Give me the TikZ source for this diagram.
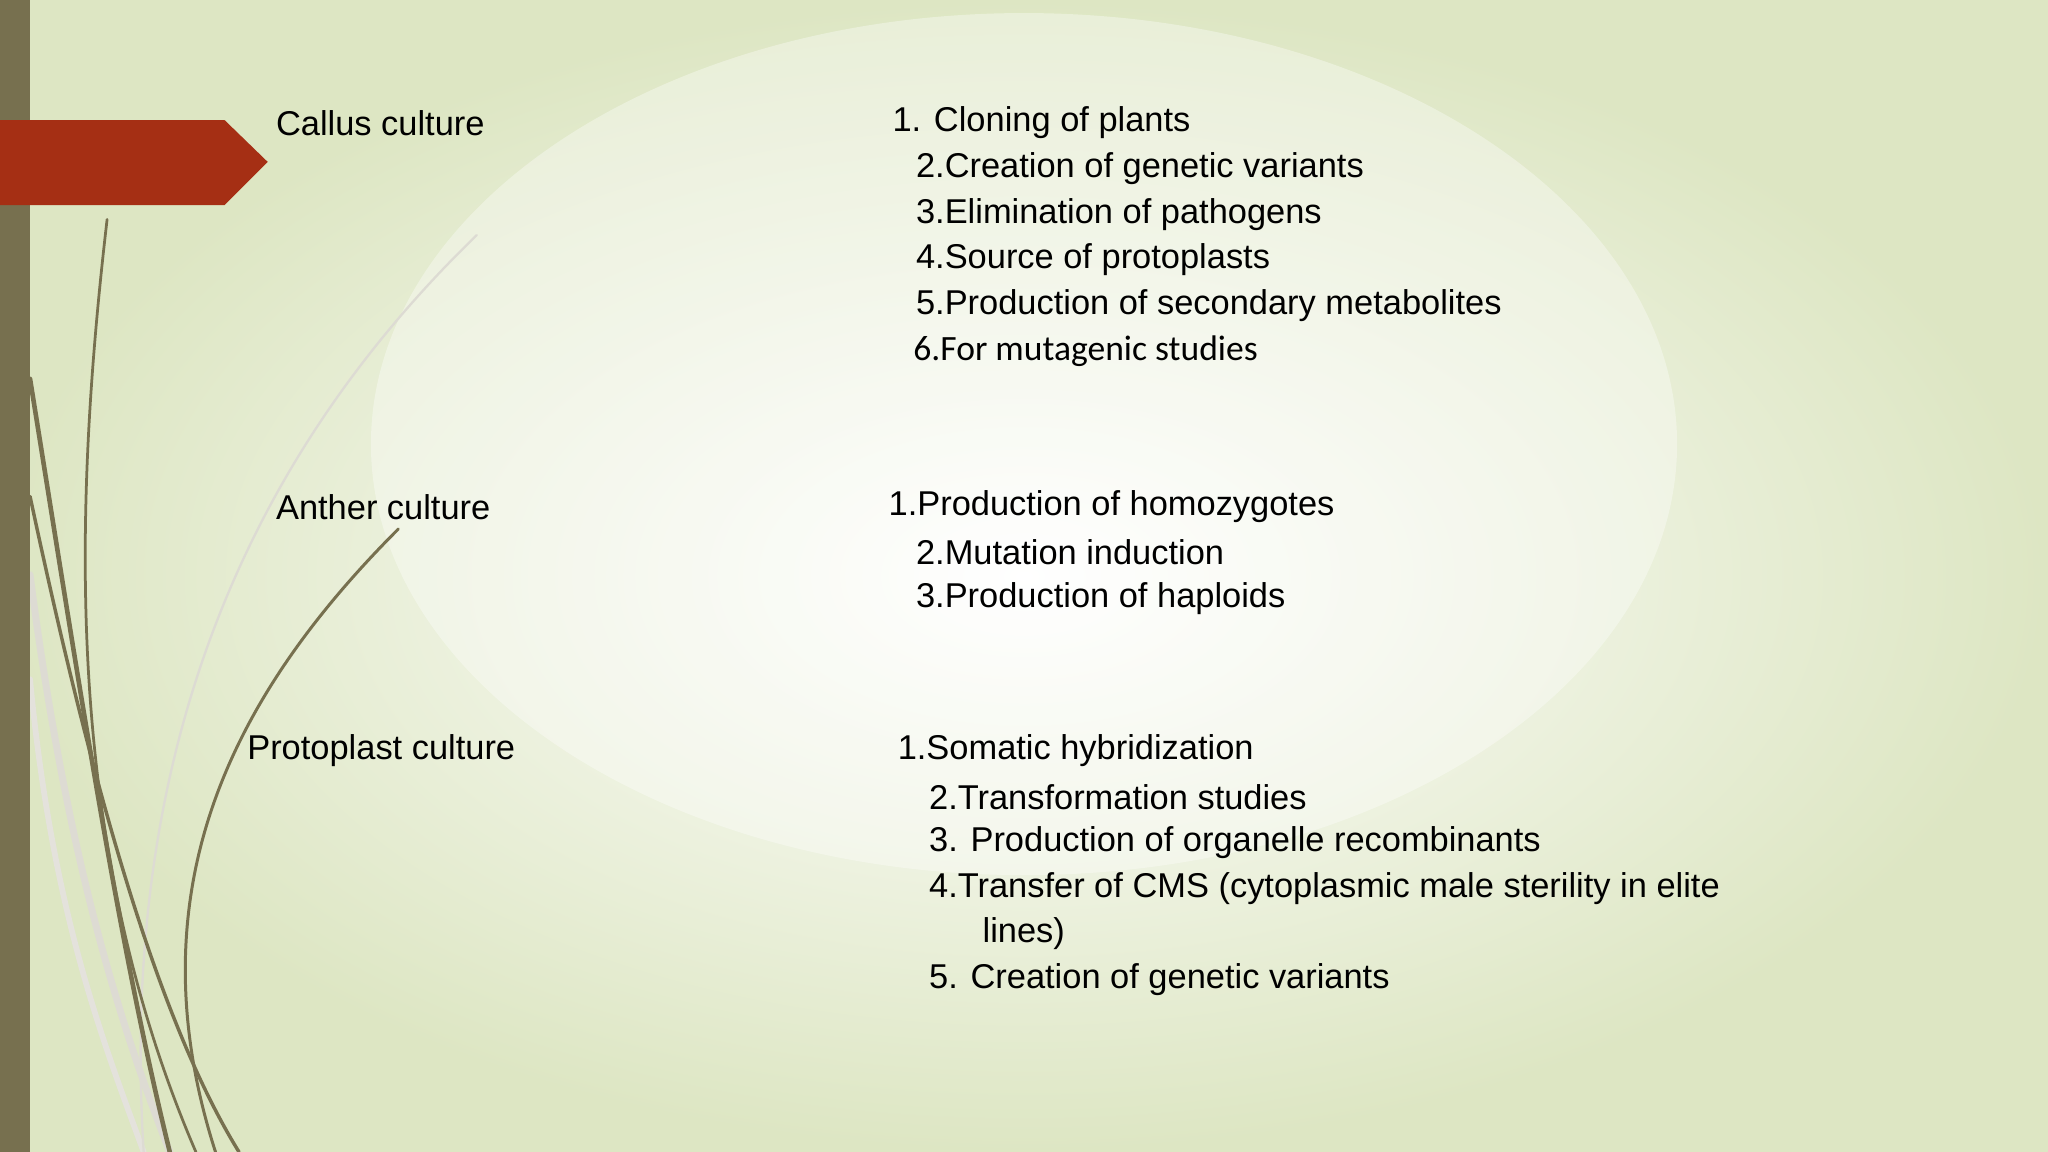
\documentclass[tikz,border=0pt]{standalone}
\usepackage{fontspec}
\setmainfont{Liberation Sans}
\newfontfamily\calib{Carlito}
\definecolor{olive}{HTML}{77704F}
\definecolor{bgedge}{HTML}{DDE6C3}
\definecolor{arrowred}{HTML}{A52F14}
\begin{document}
\begin{tikzpicture}[x=0.02cm,y=-0.02cm,
  txt/.style={anchor=west,inner sep=0pt,font=\fontsize{15}{18}\selectfont},
  curve/.style={draw=olive,line cap=round}]
\useasboundingbox (0,0) rectangle (1568,882);
\shade[inner color=white,outer color=bgedge] (0,0) rectangle (1568,882);
\fill[white,opacity=0.35] (784,340) ellipse (500 and 330);
% light curves
\draw[curve,draw=olive!25,line width=3pt] (23,440) .. controls (50,650) and (90,780) .. (130,882);
\draw[curve,draw=olive!20,line width=2.5pt] (23,520) .. controls (40,700) and (80,800) .. (110,882);
\draw[curve,draw=olive!25,line width=1pt] (365,180) .. controls (200,340) and (90,560) .. (110,882);
% dark curves
\draw[curve,line width=1.2pt] (82,168) .. controls (55,400) and (50,650) .. (150,882);
\draw[curve,line width=2pt] (23,290) .. controls (60,520) and (90,720) .. (130,882);
\draw[curve,line width=1.3pt] (305,405) .. controls (180,530) and (100,680) .. (165,882);
\draw[curve,line width=1.5pt] (23,380) .. controls (70,600) and (120,780) .. (183,882);
% left bar and arrow
\fill[olive] (0,0) rectangle (23,882);
\fill[arrowred] (0,92) -- (172,92) -- (205,124) -- (172,157) -- (0,157) -- cycle;
% headings
\node[txt] (h1) at (211,94) {Callus culture};
\node[txt] (h2) at (211,388) {Anther culture};
\node[txt] (h3) at (189,575) {Protoplast culture};
% callus list
\node[txt] (c1) at (683,94) {1. Cloning of plants};
\node[txt] (c2) at (701,129) {2.Creation of genetic variants};
\node[txt] (c3) at (701,164) {3.Elimination of pathogens};
\node[txt] (c4) at (701,199) {4.Source of protoplasts};
\node[txt] (c5) at (701,234) {5.Production of secondary metabolites};
\node[txt,font=\calib\fontsize{15.5}{18}\selectfont] (c6) at (699,269) {6.For mutagenic studies};
% anther list
\node[txt] (a1) at (680,388) {1.Production of homozygotes};
\node[txt] (a2) at (701,423) {2.Mutation induction};
\node[txt] (a3) at (701,458) {3.Production of haploids};
% protoplast list
\node[txt] (p1) at (687,575) {1.Somatic hybridization};
\node[txt] (p2) at (711,610) {2.Transformation studies};
\node[txt] (p3) at (711,645) {3. Production of organelle recombinants};
\node[txt] (p4) at (711,680) {4.Transfer of CMS (cytoplasmic male sterility in elite};
\node[txt] (p4b) at (752,715) {lines)};
\node[txt] (p5) at (711,750) {5. Creation of genetic variants};
\end{tikzpicture}
\end{document}
